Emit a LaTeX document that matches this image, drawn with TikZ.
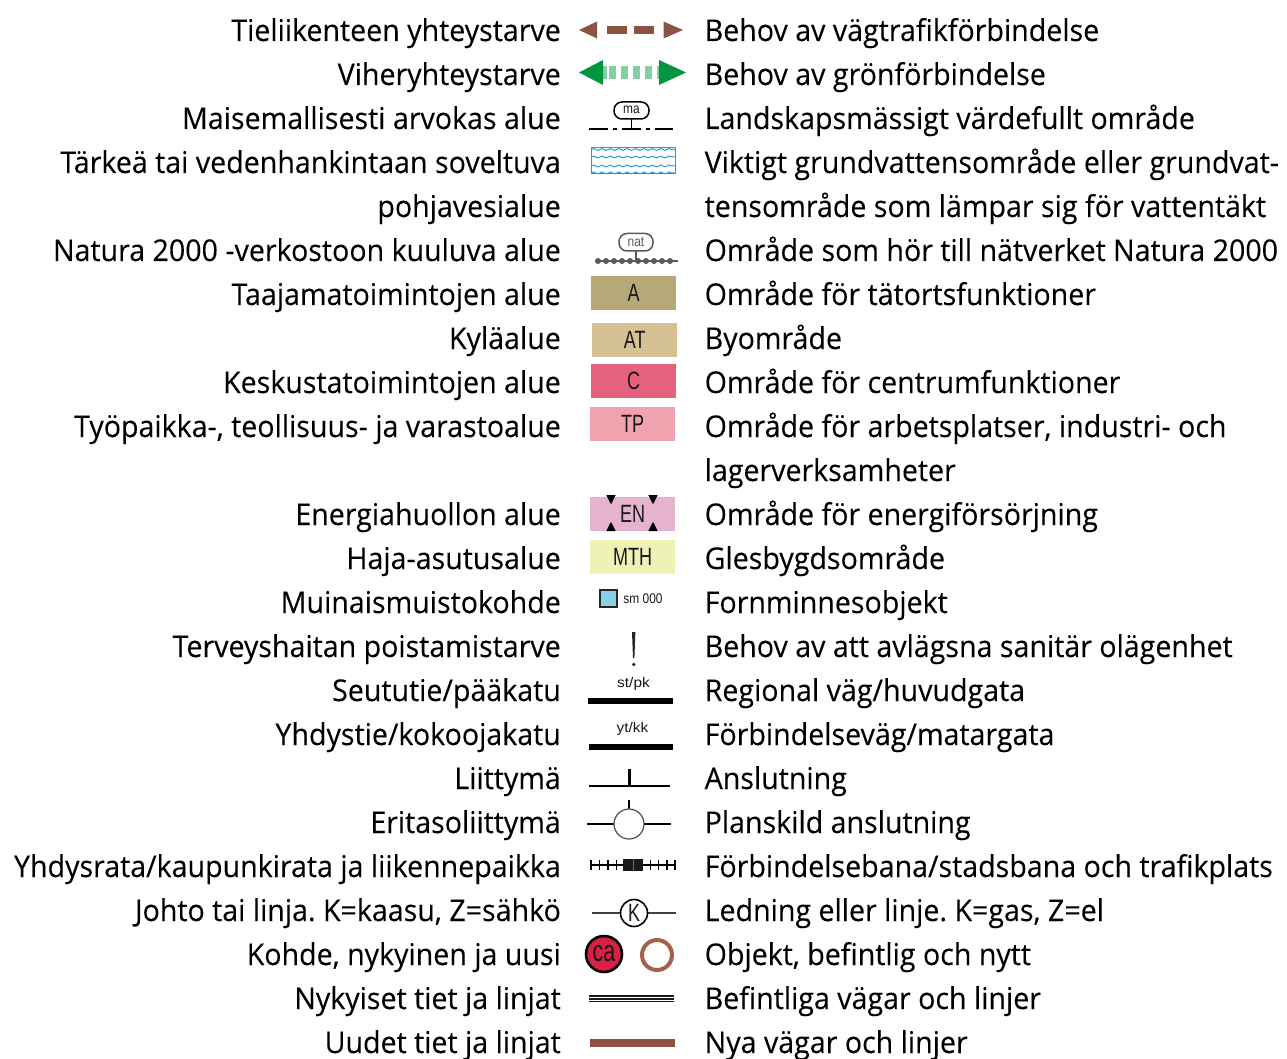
\documentclass[tikz,border=0pt]{standalone}
\usepackage{fontspec}
\setmainfont[FakeBold=0.15]{Open Sans}
\newfontfamily\symfont{Liberation Sans}
\usetikzlibrary{decorations.pathmorphing}
\frenchspacing
\definecolor{brownc}{HTML}{8B5442}
\definecolor{greenc}{HTML}{009640}
\definecolor{lgreen}{HTML}{86CFA0}
\definecolor{bluec}{HTML}{2B9AD8}
\definecolor{ringc}{HTML}{A5604A}
\tikzset{
  lefttext/.style={anchor=base east,inner sep=0pt,font=\fontsize{30}{30}\selectfont,text=black,transform shape,xscale=.953},
  righttext/.style={anchor=base west,inner sep=0pt,font=\fontsize{30}{30}\selectfont,text=black,transform shape,xscale=.953},
  areabox/.style={draw=none,minimum width=85pt,minimum height=34pt,inner sep=0pt,anchor=north west},
  boxlabel/.style={font=\symfont\fontsize{25}{25}\selectfont,inner sep=0pt,transform shape,xscale=.72,text=black!90},
  smalllabel/.style={font=\symfont\fontsize{14}{14}\selectfont,inner sep=0pt,transform shape,xscale=.85,text=black!90},
  widelabel/.style={font=\symfont\fontsize{14}{14}\selectfont,inner sep=0pt,text=black!90,transform shape,xscale=1.1},
  pill/.style={rounded corners=8pt,line width=1.5pt,fill=white},
  wave/.style={draw=bluec,line width=1pt,decorate,decoration={snake,amplitude=.9pt,segment length=8.4pt}},
}
\begin{document}
\begin{tikzpicture}[x=1pt,y=-1pt]
\useasboundingbox (0,0) rectangle (1287,1059);
% left column
\foreach \n/\y/\t in {
 l1/41/{Tieliikenteen yhteystarve},
 l2/85/{Viheryhteystarve},
 l3/129/{Maisemallisesti arvokas alue},
 l4/173/{Tärkeä tai vedenhankintaan soveltuva},
 l5/217/{pohjavesialue},
 l6/261/{Natura 2000 -verkostoon kuuluva alue},
 l7/305/{Taajamatoimintojen alue},
 l8/349/{Kyläalue},
 l9/393/{Keskustatoimintojen alue},
 l10/437/{Työpaikka-, teollisuus- ja varastoalue},
 l11/525/{Energiahuollon alue},
 l12/569/{Haja-asutusalue},
 l13/613/{Muinaismuistokohde},
 l14/657/{Terveyshaitan poistamistarve},
 l15/701/{Seututie\slash pääkatu},
 l16/745/{Yhdystie\slash kokoojakatu},
 l17/789/{Liittymä},
 l18/833/{Eritasoliittymä},
 l19/877/{Yhdysrata\slash kaupunkirata ja liikennepaikka},
 l20/921/{Johto tai linja. K=kaasu, Z=sähkö},
 l21/965/{Kohde, nykyinen ja uusi},
 l22/1009/{Nykyiset tiet ja linjat},
 l23/1053/{Uudet tiet ja linjat}}
 {\node[lefttext] (\n) at (561,\y) {\t};}
% right column
\foreach \n/\y/\t in {
 r1/41/{Behov av vägtrafikförbindelse},
 r2/85/{Behov av grönförbindelse},
 r3/129/{Landskapsmässigt värdefullt område},
 r4/173/{Viktigt grundvattensområde eller grundvat-},
 r5/217/{tensområde som lämpar sig för vattentäkt},
 r6/261/{Område som hör till nätverket Natura 2000},
 r7/305/{Område för tätortsfunktioner},
 r8/349/{Byområde},
 r9/393/{Område för centrumfunktioner},
 r10/437/{Område för arbetsplatser, industri- och},
 r10b/481/{lagerverksamheter},
 r11/525/{Område för energiförsörjning},
 r12/569/{Glesbygdsområde},
 r13/613/{Fornminnesobjekt},
 r14/657/{Behov av att avlägsna sanitär olägenhet},
 r15/701/{Regional väg\slash huvudgata},
 r16/745/{Förbindelseväg\slash matargata},
 r17/789/{Anslutning},
 r18/833/{Planskild anslutning},
 r19/877/{Förbindelsebana\slash stadsbana och trafikplats},
 r20/921/{Ledning eller linje. K=gas, Z=el},
 r21/965/{Objekt, befintlig och nytt},
 r22/1009/{Befintliga vägar och linjer},
 r23/1053/{Nya vägar och linjer}}
 {\node[righttext] (\n) at (704.5,\y) {\t};}
% row 1: road link
\fill[brownc] (579,30) -- (597,21.5) -- (597,38.5) -- cycle;
\fill[brownc] (607,26) rectangle (627,34);
\fill[brownc] (633.5,26) rectangle (654,34);
\fill[brownc] (683,30) -- (663.5,21.5) -- (663.5,38.5) -- cycle;
% row 2: green link
\foreach \a/\b in {603/606.5,609/616,621/628,633/640,645/652,657/659}
  \fill[lgreen] (\a,66) rectangle (\b,79);
\fill[greenc] (579,72.5) -- (603,60) -- (603,85) -- cycle;
\fill[greenc] (686,72.5) -- (659,60) -- (659,85) -- cycle;
% row 3: landscape
\draw[line width=1.4pt] (589,129) -- (608,129) (613,129) -- (617,129) (622,129) -- (641,129) (646,129) -- (650,129) (655,129) -- (673,129);
\draw[line width=1.4pt] (631.5,119) -- (631.5,129);
\draw[pill,draw=black] (614,102) rectangle (649,119);
\node[smalllabel] (ma) at (631.5,109.5) {ma};
% row 4: groundwater
\draw[bluec,line width=1pt] (591,148) rectangle (675,174);
\foreach \y in {149.5,157,166,173}
  \draw[wave] (591,\y) -- (675,\y);
% row 5: natura
\draw[black!65,line width=1.4pt] (595,261) -- (678,261);
\foreach \i in {0,...,9} \fill[black!65] (598+8*\i,261) circle (3);
\draw[black!65,line width=1.4pt] (636,251) -- (636,261);
\draw[pill,draw=black!65] (619,233.5) rectangle (653,251);
\node[smalllabel,text=black!65] (nat) at (636,242) {nat};
% area boxes
\node[areabox,fill={rgb,255:red,183;green,169;blue,119}] (a) at (591,276) {};
\node[boxlabel] at (a.center) {A};
\node[areabox,fill={rgb,255:red,213;green,193;blue,147}] (at) at (592,323) {};
\node[boxlabel] at (at.center) {AT};
\node[areabox,fill={rgb,255:red,229;green,98;blue,127}] (c) at (591,364) {};
\node[boxlabel] at (c.center) {C};
\node[areabox,fill={rgb,255:red,240;green,163;blue,175}] (tp) at (590,407) {};
\node[boxlabel] at (tp.center) {TP};
\node[areabox,fill={rgb,255:red,230;green,179;blue,207}] (en) at (590,497) {};
\node[boxlabel] at (en.center) {EN};
\foreach \x in {611,653} {
  \fill (\x-4.7,495) -- (\x+4.7,495) -- (\x+.5,503.5) -- (\x-.5,503.5) -- cycle;
  \fill (\x-.5,522.5) -- (\x+.5,522.5) -- (\x+4.7,531) -- (\x-4.7,531) -- cycle;
}
\node[areabox,fill={rgb,255:red,238;green,242;blue,181}] (mth) at (590,540) {};
\node[boxlabel] at (mth.center) {MTH};
% ancient monument
\draw[line width=1.6pt,draw=black!85,fill={rgb,255:red,137;green,207;blue,229}] (600,590) rectangle (617,607);
\node[smalllabel] (sm) at (643,598.5) {sm 000};
% exclamation
\fill[black!85] (632,632) -- (635.4,632) -- (634.4,658) -- (633,658) -- cycle;
\fill[black!85] (633.7,664.5) circle (1.8);
% roads
\node[widelabel] (st) at (633.5,684) {st/pk};
\fill (588,698) rectangle (673,704);
\node[widelabel] (yt) at (632.5,729) {yt/kk};
\fill (589,744) rectangle (673,749.5);
% junction
\draw[line width=1.8pt] (589,786) -- (670,786);
\draw[line width=2.6pt] (629.5,769) -- (629.5,786);
% interchange
\coordinate (ic) at (629,824);
\draw[line width=2.4pt] (587,824) -- (671,824);
\draw[line width=2.4pt] (629,800) -- (629,810);
\node[circle,draw=black!70,fill=white,line width=1.2pt,minimum size=30pt,inner sep=0pt] (ics) at (ic) {};
% rail
\draw[line width=1.3pt] (591,865) -- (675,865);
\foreach \i in {0,...,9} \draw[line width=1.3pt] (591+8.45*\i,860) -- (591+8.45*\i,870);
\draw[line width=1.3pt] (675,860) -- (675,870);
\fill[black!90] (623,859) rectangle (643,871);
\draw[black!60,line width=.6pt] (633,859) -- (633,871);
% line K
\draw[black!75,line width=1.2pt] (592,913) -- (676,913);
\node[circle,draw=black,fill=white,line width=1.6pt,minimum size=27pt,inner sep=0pt] (k) at (634,913) {};
\node[boxlabel] at (k.center) {K};
% objects
\node[circle,draw=black,fill={rgb,255:red,220;green,31;blue,69},line width=2.6pt,minimum size=36pt,inner sep=0pt] (ca) at (604,954) {};
\node[boxlabel,font=\symfont\fontsize{30}{30}\selectfont] at (ca.center) {ca};
\node[circle,draw=ringc,line width=4pt,minimum size=30pt,inner sep=0pt] (new) at (657,955) {};
% existing
\fill[black!90] (589,995.3) rectangle (674,1002);
\draw[white,line width=.6pt] (589,997.5) -- (674,997.5) (589,999.8) -- (674,999.8);
% new
\fill[brownc] (590,1039) rectangle (675,1047);
\end{tikzpicture}
\end{document}
